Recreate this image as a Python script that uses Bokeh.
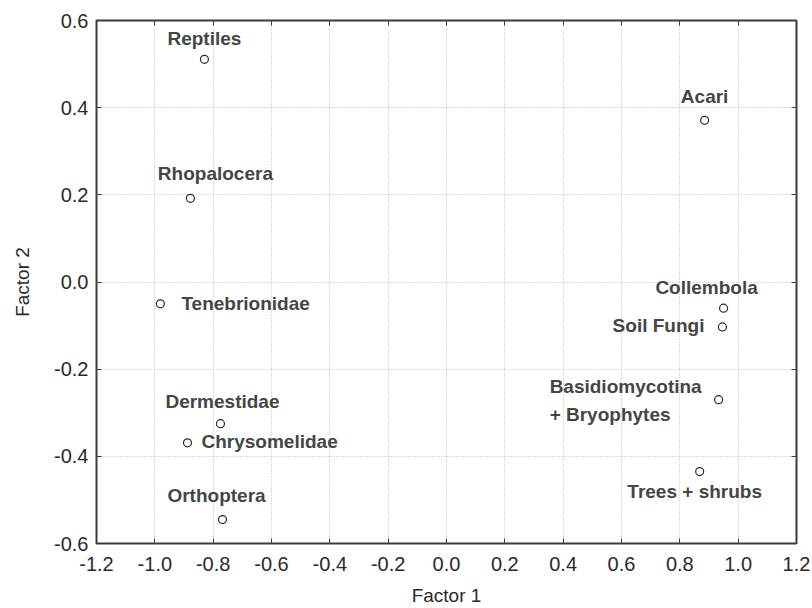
from bokeh.plotting import figure
from bokeh.models import ColumnDataSource, FixedTicker, LinearAxis, Range1d
from bokeh.core.properties import value
from bokeh.embed import file_html
from bokeh.resources import INLINE

# ---- data ----
taxa = ["Reptiles", "Rhopalocera", "Tenebrionidae", "Dermestidae", "Chrysomelidae",
        "Orthoptera", "Acari", "Collembola", "Soil Fungi",
        "Basidiomycotina\n+ Bryophytes", "Trees + shrubs"]
factor1 = [-0.83, -0.878, -0.981, -0.775, -0.888, -0.768, 0.885, 0.950, 0.946, 0.933, 0.868]
factor2 = [0.511, 0.192, -0.050, -0.325, -0.369, -0.545, 0.371, -0.060, -0.103, -0.270, -0.435]

x_ticks = [-1.2, -1.0, -0.8, -0.6, -0.4, -0.2, 0.0, 0.2, 0.4, 0.6, 0.8, 1.0, 1.2]
x_tick_labels = ["-1.2", "-1.0", "-0.8", "-0.6", "-0.4", "-0.2", "0.0", "0.2", "0.4", "0.6", "0.8", "1.0", "1.2"]
y_ticks = [-0.6, -0.4, -0.2, 0.0, 0.2, 0.4, 0.6]
y_tick_labels = ["-0.6", "-0.4", "-0.2", "0.0", "0.2", "0.4", "0.6"]

# ---- label placement (styles) ----
label_dx = [0, 25, 21, 2, 14, -6, 0, -17, -18, -169, -5]
label_dy = [-21, -25, 0, -22, -1, -24, -24, -21, -1, 1, 20]
label_align = ["center", "center", "left", "center", "left", "center", "center",
               "center", "right", "left", "center"]

src = ColumnDataSource(dict(x=factor1, y=factor2, name=taxa,
                            dx=label_dx, dy=label_dy, align=label_align))

FONT = "Liberation Sans"

p = figure(width=812, height=608, output_backend="svg", toolbar_location=None,
           x_range=Range1d(-1.2, 1.2), y_range=Range1d(-0.6, 0.6),
           min_border_left=96, min_border_right=16, min_border_top=20, min_border_bottom=64,
           x_axis_label="Factor 1", y_axis_label="Factor 2")
p.outline_line_color = "#3a3a3a"
p.outline_line_width = 2
p.background_fill_color = "white"
p.border_fill_color = "white"

xt = dict(zip(x_ticks, x_tick_labels))
yt = dict(zip(y_ticks, y_tick_labels))

def style_axis(ax, ticks, overrides, show_labels):
    ax.ticker = FixedTicker(ticks=ticks)
    ax.major_label_overrides = {float(k): v for k, v in overrides.items()}
    ax.major_tick_in = 5
    ax.major_tick_out = 0
    ax.minor_tick_line_color = None
    ax.major_tick_line_color = "#3a3a3a"
    ax.major_tick_line_width = 1
    ax.axis_line_color = None
    ax.major_label_text_font = FONT
    ax.major_label_text_font_size = "20px"
    ax.major_label_text_color = "#2a2a2a" if show_labels else None
    ax.axis_label_text_font = FONT
    ax.axis_label_text_font_size = "19px"
    ax.axis_label_text_font_style = "normal"
    ax.axis_label_text_color = "#2a2a2a"

style_axis(p.xaxis[0], x_ticks, xt, True)
style_axis(p.yaxis[0], y_ticks, yt, True)
p.xaxis[0].major_label_standoff = 13
p.yaxis[0].major_label_standoff = 8
p.xaxis[0].axis_label_standoff = 11
p.yaxis[0].axis_label_standoff = 18

top = LinearAxis()
right = LinearAxis()
style_axis(top, x_ticks, xt, False)
style_axis(right, y_ticks, yt, False)
top.major_label_text_font_size = "0px"
right.major_label_text_font_size = "0px"
top.major_label_standoff = 0
right.major_label_standoff = 0
p.add_layout(top, "above")
p.add_layout(right, "right")

p.xgrid.ticker = FixedTicker(ticks=x_ticks)
p.ygrid.ticker = FixedTicker(ticks=y_ticks)
for g in (p.xgrid[0], p.ygrid[0]):
    g.grid_line_color = "#b8b8b8"
    g.grid_line_dash = "1 2"
    g.grid_line_width = 1

p.scatter("x", "y", source=src, marker="circle", size=8, fill_color="white",
          line_color="#2a2a2a", line_width=1.2)

p.text("x", "y", text="name", source=src, x_offset="dx", y_offset="dy",
       text_align="align", text_baseline="middle",
       text_font=value(FONT), text_font_size="19px", text_font_style="bold",
       text_color="#454545", text_line_height=1.35)

open("out.html", "w").write(file_html(p, INLINE))
